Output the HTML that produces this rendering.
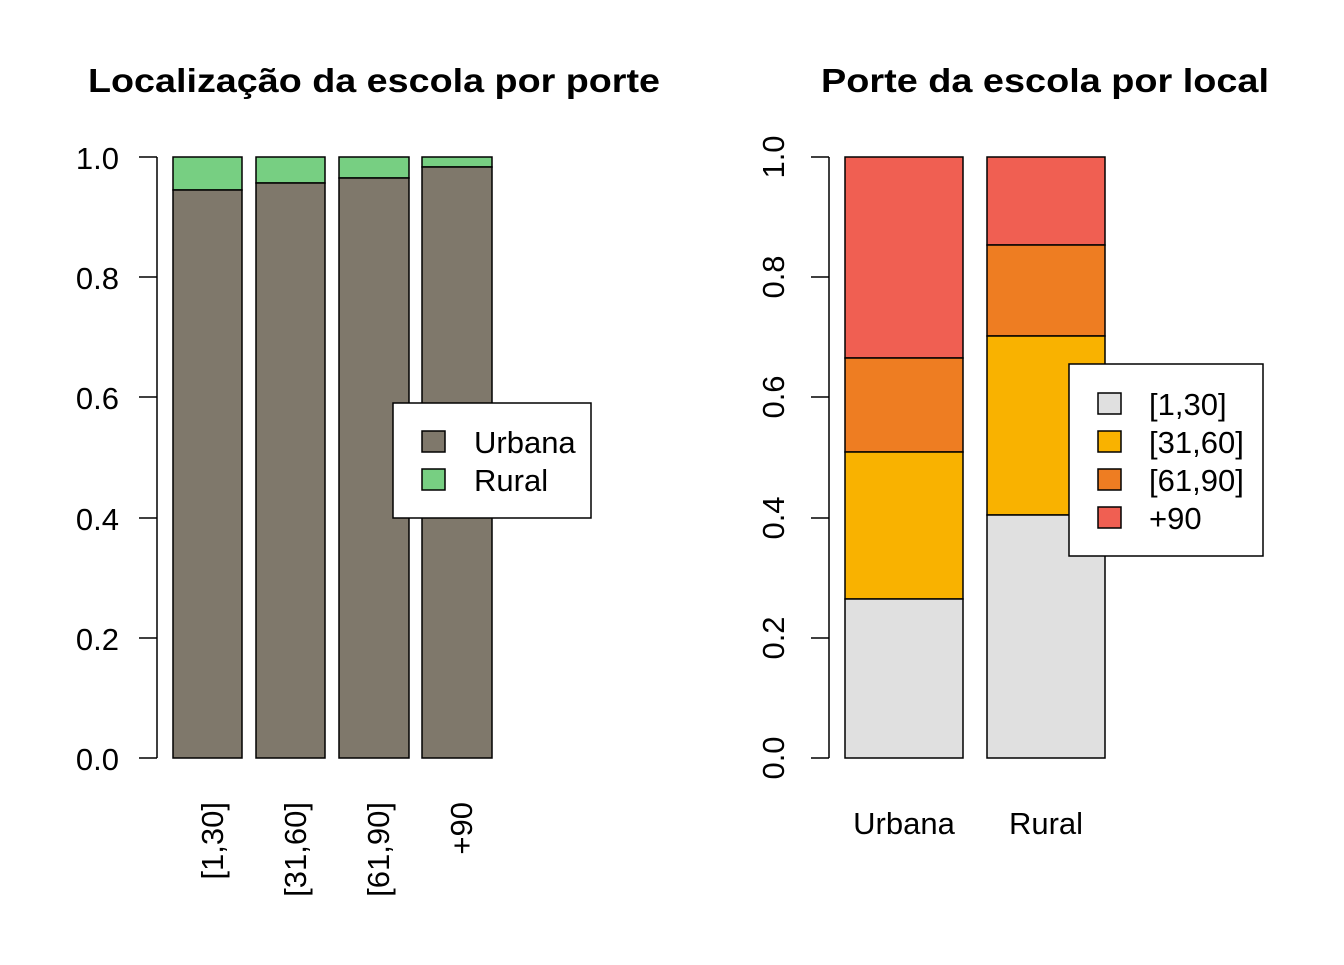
<!DOCTYPE html>
<html><head><meta charset="utf-8"><style>body{margin:0;background:#fff}</style></head><body>
<svg width="1344" height="960" xmlns="http://www.w3.org/2000/svg" font-family="Liberation Sans, sans-serif" font-size="31">
<rect width="1344" height="960" fill="#fff"/>
<text x="374" y="92" text-anchor="middle" font-weight="bold" font-size="33" textLength="572" lengthAdjust="spacingAndGlyphs">Localização da escola por porte</text>
<text x="1045" y="92" text-anchor="middle" font-weight="bold" font-size="33" textLength="448" lengthAdjust="spacingAndGlyphs">Porte da escola por local</text>
<g stroke="#000" stroke-width="1.5">
<line x1="157" y1="157" x2="157" y2="758"/>
<line x1="139" y1="157" x2="157" y2="157"/><line x1="139" y1="277" x2="157" y2="277"/><line x1="139" y1="397" x2="157" y2="397"/><line x1="139" y1="518" x2="157" y2="518"/><line x1="139" y1="638" x2="157" y2="638"/><line x1="139" y1="758" x2="157" y2="758"/>
<rect x="173" y="157" width="69" height="33" fill="#77cf82"/><rect x="173" y="190" width="69" height="568" fill="#7f786b"/>
<rect x="256" y="157" width="69" height="26" fill="#77cf82"/><rect x="256" y="183" width="69" height="575" fill="#7f786b"/>
<rect x="339" y="157" width="70" height="21" fill="#77cf82"/><rect x="339" y="178" width="70" height="580" fill="#7f786b"/>
<rect x="422" y="157" width="70" height="10" fill="#77cf82"/><rect x="422" y="167" width="70" height="591" fill="#7f786b"/>
<rect x="393" y="403" width="198" height="115" fill="#fff"/>
<rect x="422" y="431" width="23" height="21" fill="#7f786b"/><rect x="422" y="469" width="23" height="21" fill="#77cf82"/>
<line x1="829" y1="157" x2="829" y2="758"/>
<line x1="811" y1="157" x2="829" y2="157"/><line x1="811" y1="277" x2="829" y2="277"/><line x1="811" y1="397" x2="829" y2="397"/><line x1="811" y1="518" x2="829" y2="518"/><line x1="811" y1="638" x2="829" y2="638"/><line x1="811" y1="758" x2="829" y2="758"/>
<rect x="845" y="157" width="118" height="201" fill="#f05f52"/><rect x="845" y="358" width="118" height="94" fill="#ee7d22"/><rect x="845" y="452" width="118" height="147" fill="#f9b200"/><rect x="845" y="599" width="118" height="159" fill="#e0e0e0"/>
<rect x="987" y="157" width="118" height="88" fill="#f05f52"/><rect x="987" y="245" width="118" height="91" fill="#ee7d22"/><rect x="987" y="336" width="118" height="179" fill="#f9b200"/><rect x="987" y="515" width="118" height="243" fill="#e0e0e0"/>
<rect x="1069" y="364" width="194" height="192" fill="#fff"/>
<rect x="1098" y="393" width="23" height="21" fill="#e0e0e0"/><rect x="1098" y="431" width="23" height="21" fill="#f9b200"/><rect x="1098" y="469" width="23" height="21" fill="#ee7d22"/><rect x="1098" y="507" width="23" height="21" fill="#f05f52"/>
</g>
<g text-anchor="end">
<text x="119" y="169">1.0</text><text x="119" y="289">0.8</text><text x="119" y="409">0.6</text><text x="119" y="530">0.4</text><text x="119" y="650">0.2</text><text x="119" y="770">0.0</text>
</g>
<text x="474" y="453">Urbana</text><text x="474" y="491">Rural</text>
<g text-anchor="end">
<text transform="translate(223,802) rotate(-90)">[1,30]</text>
<text transform="translate(306,802) rotate(-90)">[31,60]</text>
<text transform="translate(389,802) rotate(-90)">[61,90]</text>
<text transform="translate(472,802) rotate(-90)">+90</text>
</g>
<g text-anchor="middle">
<text transform="translate(784,157) rotate(-90)">1.0</text>
<text transform="translate(784,277) rotate(-90)">0.8</text>
<text transform="translate(784,397) rotate(-90)">0.6</text>
<text transform="translate(784,518) rotate(-90)">0.4</text>
<text transform="translate(784,638) rotate(-90)">0.2</text>
<text transform="translate(784,758) rotate(-90)">0.0</text>
<text x="904" y="834">Urbana</text><text x="1046" y="834">Rural</text>
</g>
<text x="1149" y="415">[1,30]</text><text x="1149" y="453">[31,60]</text><text x="1149" y="491">[61,90]</text><text x="1149" y="529">+90</text>
</svg>
</body></html>
